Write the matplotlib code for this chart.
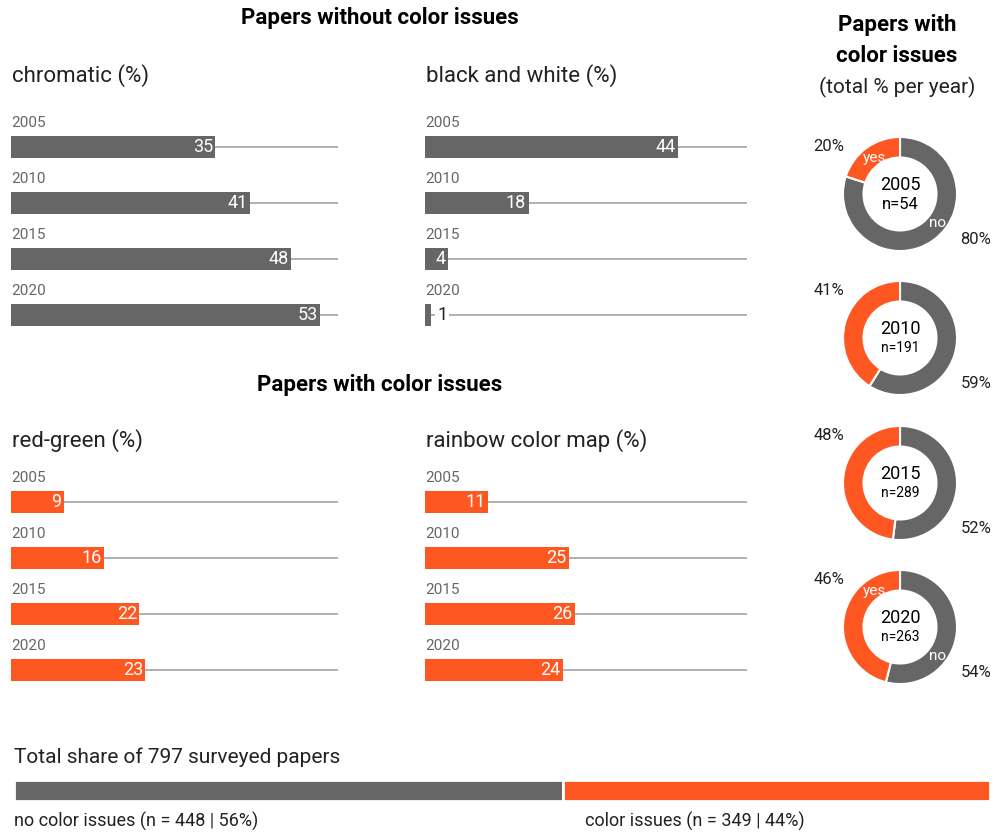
import matplotlib
matplotlib.use('Agg')
import matplotlib.pyplot as plt

plt.rcParams['font.family'] = ['Roboto', 'DejaVu Sans']

# data
years = ['2005', '2010', '2015', '2020']
chromatic = [35, 41, 48, 53]
black_white = [44, 18, 4, 1]
red_green = [9, 16, 22, 23]
rainbow = [11, 25, 26, 24]
issue_yes = [20, 41, 48, 46]
issue_no = [80, 59, 52, 54]
n_papers = [54, 191, 289, 263]
total_no = 448
total_yes = 349

GRAY = '#666666'
ORANGE = '#FF5722'
LINE = '#aaaaaa'
W, H = 995, 833
XMAX = 56

fig = plt.figure(figsize=(W / 100, H / 100), dpi=100)
fig.patch.set_facecolor('white')


def ax_px(x0, y0, x1, y1):
    return fig.add_axes([x0 / W, 1 - y1 / H, (x1 - x0) / W, (y1 - y0) / H])


def ftext(x, y, s, **kw):
    fig.text(x / W, 1 - y / H, s, **kw)


def bar_panel(x0, x1, y0, values, color, title, title_y):
    ax = ax_px(x0, y0, x1, y0 + 224)
    ax.set_xlim(0, XMAX)
    ax.set_ylim(3.5, -0.5)
    ax.axis('off')
    for i, (yr, v) in enumerate(zip(years, values)):
        ax.plot([0, XMAX], [i, i], color=LINE, lw=1.3, zorder=1)
        ax.barh(i, v, height=0.4, color=color, zorder=2)
        ax.text(0, i - 0.42, yr, color=GRAY, fontsize=11, va='center', ha='left')
        if v >= 3:
            ax.text(v - 0.4, i, str(v), color='white', fontsize=13,
                    va='center', ha='right', zorder=3)
        else:
            ax.text(v + 1.1, i, str(v), color='#222222', fontsize=13,
                    va='center', ha='left', zorder=3,
                    bbox=dict(facecolor='white', edgecolor='none', pad=1.5))
    ftext(x0 + 1, title_y, title, fontsize=16, color='#222222', va='center')


# titles
ftext(380, 18, 'Papers without color issues', fontsize=16, fontweight='bold',
      ha='center', va='center', color='black')
ftext(380, 385, 'Papers with color issues', fontsize=16, fontweight='bold',
      ha='center', va='center', color='black')
ftext(897, 25, 'Papers with', fontsize=16, fontweight='bold',
      ha='center', va='center', color='black')
ftext(897, 56, 'color issues', fontsize=16, fontweight='bold',
      ha='center', va='center', color='black')
ftext(897, 87, '(total % per year)', fontsize=15, ha='center', va='center',
      color='#222222')

bar_panel(11, 338, 119, chromatic, GRAY, 'chromatic (%)', 76)
bar_panel(425, 747, 119, black_white, GRAY, 'black and white (%)', 76)
bar_panel(11, 338, 474, red_green, ORANGE, 'red-green (%)', 441)
bar_panel(425, 747, 474, rainbow, ORANGE, 'rainbow color map (%)', 441)

# donuts
centers = [194, 338, 483, 627]
for k, cy in enumerate(centers):
    cx = 900
    ax = ax_px(cx - 65, cy - 65, cx + 65, cy + 65)
    ax.pie([issue_no[k], issue_yes[k]], colors=[GRAY, ORANGE], startangle=90,
           counterclock=False, radius=1,
           wedgeprops=dict(width=0.36, edgecolor='white', linewidth=1.5))
    ax.set_xlim(-1.14, 1.14)
    ax.set_ylim(-1.14, 1.14)
    ax.set_aspect('equal')
    ax.axis('off')
    ax.text(-1.25, 0.84, f'{issue_yes[k]}%', fontsize=12, ha='center',
            va='center', color='#222222', clip_on=False)
    ax.text(1.33, -0.8, f'{issue_no[k]}%', fontsize=12, ha='center',
            va='center', color='#222222', clip_on=False)
    ax.text(0, 0.16, years[k], fontsize=13, ha='center', va='center', color='black')
    ax.text(0, -0.18, f'n={n_papers[k]}', fontsize=12 if k == 0 else 10,
            ha='center', va='center', color='black')
    if k in (0, 3):
        ax.text(-0.45, 0.64, 'yes', fontsize=11, ha='center', va='center', color='white')
        ax.text(0.66, -0.5, 'no', fontsize=11, ha='center', va='center', color='white')

# total share bar
ftext(14, 757, 'Total share of 797 surveyed papers', fontsize=15,
      va='center', color='#222222')
ax = ax_px(14, 780, 990, 801)
ax.barh(0, total_no, left=0, height=1, color=GRAY, edgecolor='white', lw=2)
ax.barh(0, total_yes, left=total_no, height=1, color=ORANGE, edgecolor='white', lw=2)
ax.set_xlim(0, total_no + total_yes)
ax.set_ylim(-0.5, 0.5)
ax.axis('off')
total = total_no + total_yes
ftext(14, 821, f'no color issues (n = {total_no} | {round(100 * total_no / total)}%)',
      fontsize=13, va='center', color='#222222')
ftext(585, 821, f'color issues (n = {total_yes} | {round(100 * total_yes / total)}%)',
      fontsize=13, va='center', color='#222222')

fig.savefig('out.png', dpi=100, facecolor='white')
